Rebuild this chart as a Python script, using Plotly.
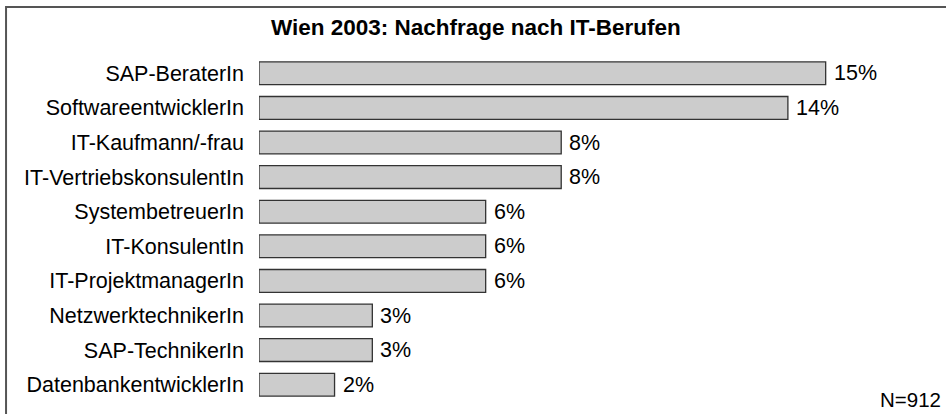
import plotly.graph_objects as go

berufe = ['SAP-BeraterIn', 'SoftwareentwicklerIn', 'IT-Kaufmann/-frau', 'IT-VertriebskonsulentIn',
          'SystembetreuerIn', 'IT-KonsulentIn', 'IT-ProjektmanagerIn', 'NetzwerktechnikerIn',
          'SAP-TechnikerIn', 'DatenbankentwicklerIn']
anteile = [15, 14, 8, 8, 6, 6, 6, 3, 3, 2]
titel = 'Wien 2003: Nachfrage nach IT-Berufen'
fussnote = 'N=912'

font = 'Liberation Sans, Arial, sans-serif'
fs = 21.5

fig = go.Figure()

fig.add_trace(go.Bar(
    y=berufe,
    x=anteile,
    orientation='h',
    width=0.66,
    marker=dict(color='#cccccc', line=dict(color='#333333', width=1.3)),
    hoverinfo='skip'
))

# value labels to the right of each bar
for b, a in zip(berufe, anteile):
    fig.add_annotation(
        x=a, y=b, text=f'{a}%', showarrow=False,
        xanchor='left', xshift=6,
        font=dict(family=font, size=fs, color='black')
    )

fig.add_annotation(
    xref='paper', yref='paper', x=1.004, y=-0.03, text=fussnote,
    showarrow=False, xanchor='right', yanchor='bottom', borderpad=0,
    font=dict(family=font, size=20.5, color='black')
)

# frame around the whole chart
fig.add_shape(
    type='rect', xref='paper', yref='paper',
    x0=-0.372, x1=1.1, y0=-0.2, y1=1.1416,
    line=dict(color='#555555', width=2), layer='below'
)

fig.update_layout(
    width=946, height=414,
    margin=dict(l=259, r=7, t=56, b=12),
    paper_bgcolor='white', plot_bgcolor='white',
    showlegend=False,
    title=dict(text=f'<b>{titel}</b>', x=0.503, xanchor='center', y=0.935, yanchor='middle',
               font=dict(family=font, size=22.5, color='black')),
    font=dict(family=font, size=fs, color='black'),
    xaxis=dict(range=[0, 18], visible=False, fixedrange=True),
    yaxis=dict(autorange='reversed', showline=False, showgrid=False, zeroline=False,
               ticks='', ticklabelstandoff=14, fixedrange=True,
               tickfont=dict(family=font, size=fs, color='black')),
)

fig.write_html('out.html', config={'displayModeBar': False},
               post_script="document.body.style.margin='0';")
